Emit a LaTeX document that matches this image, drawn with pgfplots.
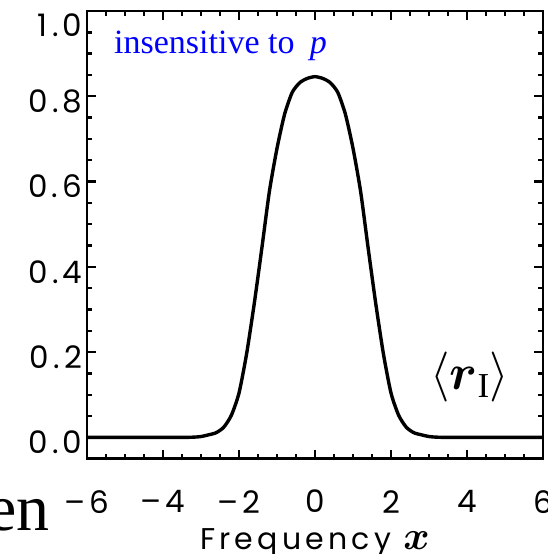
\RequirePackage{fix-cm}
\documentclass[border=0pt]{standalone}
\usepackage{amsmath}
\usepackage{fontspec}
\setmainfont{Liberation Serif}
\newfontfamily\tickfont[LetterSpace=14]{Poppins}
\usepackage{pgfplots}
\pgfplotsset{compat=1.18}
\definecolor{lblblue}{RGB}{0,0,255}
\begin{document}
\begin{tikzpicture}
\begin{axis}[
  name=ax,
  scale only axis, width=456pt, height=447.7pt,
  xmin=-6, xmax=6, ymin=-0.05, ymax=1.0,
  axis line style={line width=2.5pt},
  every tick/.style={black, line width=2.4pt},
  major tick length=9pt, minor tick length=5pt,
  tick align=inside,
  xtick={-6,-4,-2,0,2,4,6},
  xticklabels={–6,–4,–2,0,2,4,6},
  minor x tick num=3,
  ytick={0,0.2,0.4,0.6,0.8,1.0},
  yticklabels={0.0,0.2,0.4,0.6,0.8,{}},
  minor y tick num=3,
  ticklabel style={font=\tickfont\fontsize{31}{31}\selectfont},
  xticklabel style={yshift=-28pt},
  yticklabel style={xshift=-1pt, yshift=-5pt},
  xlabel={Frequency {\fontsize{40}{40}\selectfont$\boldsymbol{x}$}},
  xlabel style={font=\tickfont\fontsize{30}{30}\selectfont, at={(axis description cs:0.5,0)}, anchor=base, yshift=-90.3pt},
  clip=false,
]
\addplot[black, line width=3.4pt, smooth, tension=0.4] coordinates {
(-6,0) (-3.6,0) (-3.2,0.0005) (-3.0,0.002) (-2.8,0.006) (-2.6,0.011) (-2.4,0.024) (-2.2,0.052)
(-2.0,0.104) (-1.8,0.196) (-1.6,0.313) (-1.4,0.443) (-1.2,0.577) (-1.0,0.678) (-0.8,0.758)
(-0.6,0.809) (-0.4,0.832) (-0.2,0.842) (0,0.846)
(0.2,0.842) (0.4,0.832) (0.6,0.809) (0.8,0.758) (1.0,0.678) (1.2,0.577) (1.4,0.443)
(1.6,0.313) (1.8,0.196) (2.0,0.104) (2.2,0.052) (2.4,0.024) (2.6,0.011) (2.8,0.006)
(3.0,0.002) (3.2,0.0005) (3.6,0) (6,0)
};
\node[anchor=base west, text=lblblue, font=\fontsize{34}{34}\selectfont, inner sep=0pt]
  at (axis cs:-5.29,0.901) {insensitive to\hspace{0.45em}\textit{p}};
\node[font=\fontsize{50}{50}\selectfont, inner sep=0pt] at (axis cs:4.07,0.141) {$\langle \boldsymbol{r}_{\mathrm{I}}\rangle$};
\node[anchor=east, font=\tickfont\fontsize{31}{31}\selectfont] at ([xshift=-1pt,yshift=-14pt]axis cs:-6,1.0) {1.0};
\node[anchor=base east, font=\fontsize{66}{66}\selectfont, inner sep=0pt] at (axis cs:-6.97,-0.218) {nen};
\end{axis}
\pgfresetboundingbox
\path[use as bounding box] ([shift={(-87pt,-95.3pt)}]ax.south west) rectangle ([shift={(4pt,11pt)}]ax.north east);
\end{tikzpicture}
\end{document}
